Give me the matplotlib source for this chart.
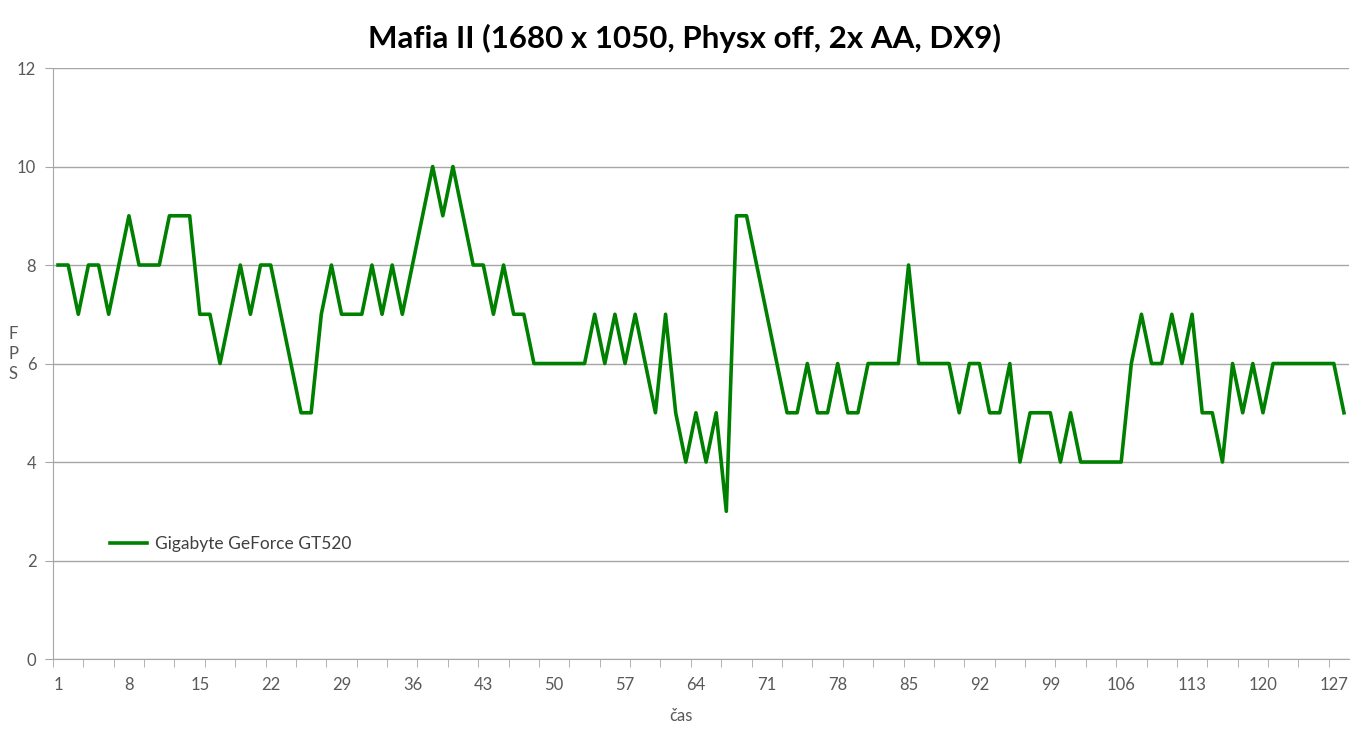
import matplotlib
matplotlib.use("Agg")
import matplotlib.pyplot as plt
import numpy as np

plt.rcParams['font.family'] = ['Lato', 'DejaVu Sans']

# FPS over time, Gigabyte GeForce GT520
fps = [8, 8, 7, 8, 8, 7, 8, 9, 8, 8, 8, 9, 9, 9, 7, 7, 6, 7, 8, 7,
       8, 8, 7, 6, 5, 5, 7, 8, 7, 7, 7, 8, 7, 8, 7, 8, 9, 10, 9, 10,
       9, 8, 8, 7, 8, 7, 7, 6, 6, 6, 6, 6, 6, 7, 6, 7, 6, 7, 6, 5,
       7, 5, 4, 5, 4, 5, 3, 9, 9, 8, 7, 6, 5, 5, 6, 5, 5, 6, 5, 5,
       6, 6, 6, 6, 8, 6, 6, 6, 6, 5, 6, 6, 5, 5, 6, 4, 5, 5, 5, 4,
       5, 4, 4, 4, 4, 4, 6, 7, 6, 6, 7, 6, 7, 5, 5, 4, 6, 5, 6, 5,
       6, 6, 6, 6, 6, 6, 6, 5]
cas = np.arange(1, len(fps) + 1)
x_labels = cas[::7]
y_ticks = [0, 2, 4, 6, 8, 10, 12]

grey = '#A6A6A6'
txt = '#595959'

fig = plt.figure(figsize=(13.69, 7.37), dpi=100)
ax = fig.add_axes([0.0387, 0.1058, 0.9467, 0.8019])

ax.plot(cas, fps, color='#008000', lw=2.6, solid_joinstyle='round',
        label='Gigabyte GeForce GT520')

ax.set_xlim(0.5, len(fps) + 0.5)
ax.set_ylim(0, 12)
ax.set_yticks(y_ticks)
ax.set_xticks(x_labels)
ax.set_xticks(np.arange(0.5, len(fps) + 0.6, 3), minor=True)
ax.tick_params(axis='x', which='major', length=0, pad=13, labelsize=12, labelcolor=txt)
ax.tick_params(axis='x', which='minor', length=6, color=grey, direction='out')
ax.tick_params(axis='y', length=6, color=grey, labelsize=12, labelcolor=txt, pad=6)
ax.yaxis.grid(True, color=grey, lw=1)
ax.set_axisbelow(True)

for s in ['top', 'right']:
    ax.spines[s].set_visible(False)
for s in ['left', 'bottom']:
    ax.spines[s].set_color(grey)

fig.suptitle('Mafia II (1680 x 1050, Physx off, 2x AA, DX9)', fontsize=22.5,
             fontweight='bold', x=0.5, y=0.948, va='center')
ax.set_xlabel('čas', fontsize=12, color=txt)
ax.xaxis.set_label_coords(0.4846, -0.083)
fig.text(0.006, 0.52, 'F\nP\nS', fontsize=12, color=txt, va='center',
         ha='left', linespacing=1.3)

leg = ax.legend(loc='lower left', bbox_to_anchor=(0.032, 0.155), frameon=False,
                fontsize=12.5, handlelength=2.1, handletextpad=0.5,
                labelcolor='#404040')

fig.savefig('out.png', dpi=100)
